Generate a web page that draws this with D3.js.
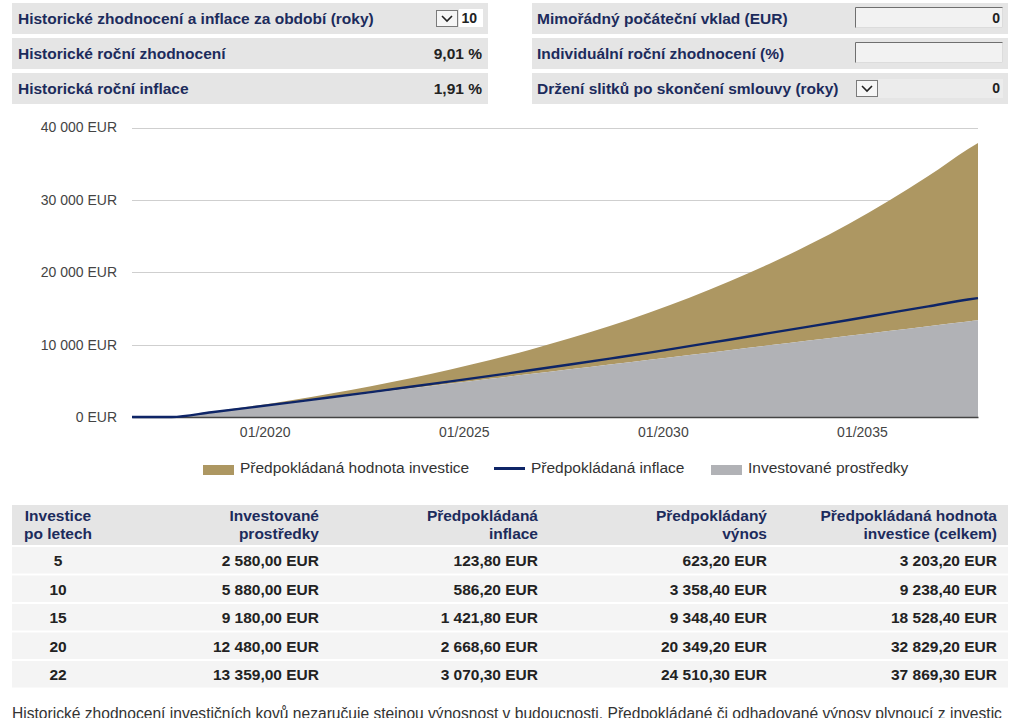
<!DOCTYPE html>
<html><head><meta charset="utf-8">
<script src="https://cdn.jsdelivr.net/npm/d3@7"></script>
<style>
body{margin:0;background:#fff;}
svg{display:block;font-family:"Liberation Sans",Arial,Helvetica,sans-serif;}
</style>
</head><body>
<svg id="c" width="1024" height="718"></svg>
<script>
// ---------- DATA ----------
const leftLabels = ["Historické zhodnocení a inflace za období (roky)", "Historické roční zhodnocení", "Historická roční inflace"];
const leftValues = ["10", "9,01 %", "1,91 %"];
const rightLabels = ["Mimořádný počáteční vklad (EUR)", "Individuální roční zhodnocení (%)", "Držení slitků po skončení smlouvy (roky)"];
const rightValues = ["0", "", "0"];

const dates = ["2016-09","2017-09","2018-09","2019-09","2020-09","2021-09","2022-09","2023-09","2024-09","2025-09","2026-09","2027-09","2028-09","2029-09","2030-09","2031-09","2032-09","2033-09","2034-09","2035-09","2036-09","2037-09","2037-12"];
const invested = [0,0,660,1320,1980,2640,3300,3960,4620,5280,5940,6600,7260,7920,8580,9240,9900,10560,11220,11880,12540,13200,13359];
const inflation = [0,0,660,1334,2022,2724,3440,4172,4919,5681,6459,7253,8065,8892,9800,10680,11580,12490,13410,14350,15290,16230,16429];
const projected = [0,0,708,1482,2327,3251,4259,5359,6562,7876,9309,10874,12582,14448,16485,18708,21136,23786,26679,29837,33283,37045,37869];

const yTicks = [0,10000,20000,30000,40000];
const xTickYears = [2020,2025,2030,2035];
const legendLabels = ["Předpokládaná hodnota investice","Předpokládaná inflace","Investované prostředky"];

const tableHeaders = [["Investice","po letech"],["Investované","prostředky"],["Předpokládaná","inflace"],["Předpokládaný","výnos"],["Předpokládaná hodnota","investice (celkem)"]];
const tableYears = [5,10,15,20,22];
const tableInvested = [2580.00,5880.00,9180.00,12480.00,13359.00];
const tableInflation = [123.80,586.20,1421.80,2668.60,3070.30];
const tableReturn = [623.20,3358.40,9348.40,20349.20,24510.30];
const tableTotal = [3203.20,9238.40,18528.40,32829.20,37869.30];

const noteText = "Historické zhodnocení investičních kovů nezaručuje stejnou výnosnost v budoucnosti. Předpokládané či odhadované výnosy plynoucí z investic";

// ---------- STYLE ----------
const NAVY_TXT = "#1c2b5c", PANEL = "#e5e5e5", GOLD = "#ad9762", GRAY = "#b1b2b6", LINE = "#0e2567";
const FS = 15.5;
const svg = d3.select("#c");
const loc = d3.formatLocale({decimal:",", thousands:" ", grouping:[3], currency:["",""]});
const fmtMoney = v => loc.format(",.2f")(v) + " EUR";
const fmtAxis = v => loc.format(",.0f")(v) + " EUR";

// ---------- TOP PANELS ----------
const rowY = [3,38,73], rowH = 31;
function chevron(g, x, y) {
  g.append("rect").attr("x", x+0.5).attr("y", y+0.5).attr("width", 21).attr("height", 16)
    .attr("fill", "#f6f6f6").attr("stroke", "#7a7a7a");
  g.append("path").attr("d", `M${x+6},${y+6} L${x+11},${y+11} L${x+16},${y+6}`)
    .attr("fill","none").attr("stroke","#222").attr("stroke-width",1.6);
}
const left = svg.append("g");
leftLabels.forEach((lab,i) => {
  left.append("rect").attr("x",12).attr("y",rowY[i]).attr("width",476).attr("height",rowH).attr("fill",PANEL);
  left.append("text").attr("x",18).attr("y",rowY[i]+rowH/2).attr("dy","0.35em")
    .attr("font-size",FS).attr("font-weight","bold").attr("fill",NAVY_TXT).text(lab);
  if (i===0) {
    chevron(left, 436, 10);
    left.append("rect").attr("x",459).attr("y",9).attr("width",24).attr("height",18).attr("fill","#fff");
    left.append("text").attr("x",477).attr("y",rowY[i]+rowH/2).attr("dy","0.35em").attr("text-anchor","end")
      .attr("font-size",14).attr("font-weight","bold").attr("fill","#222").text(leftValues[i]);
  } else {
    left.append("text").attr("x",482).attr("y",rowY[i]+rowH/2).attr("dy","0.35em").attr("text-anchor","end")
      .attr("font-size",FS).attr("font-weight","bold").attr("fill","#222").text(leftValues[i]);
  }
});
const right = svg.append("g");
rightLabels.forEach((lab,i) => {
  right.append("rect").attr("x",532).attr("y",rowY[i]).attr("width",476).attr("height",rowH).attr("fill",PANEL);
  right.append("text").attr("x",537).attr("y",rowY[i]+rowH/2).attr("dy","0.35em")
    .attr("font-size",FS).attr("font-weight","bold").attr("fill",NAVY_TXT).text(lab);
  if (i<2) {
    const y0 = rowY[i]+4;
    right.append("rect").attr("x",855).attr("y",y0).attr("width",148).attr("height",21).attr("fill","#f2f2f2");
    right.append("path").attr("d",`M855.5,${y0+21} V${y0+0.5} H1003`).attr("fill","none").attr("stroke","#6f6f6f");
    right.append("path").attr("d",`M855.5,${y0+20.5} H1002.5 V${y0+0.5}`).attr("fill","none").attr("stroke","#dcdcdc");
  } else {
    chevron(right, 856, 80);
    right.append("rect").attr("x",878).attr("y",79).attr("width",125).attr("height",19).attr("fill","#ececec");
  }
  right.append("text").attr("x",1000).attr("y",rowY[i]+rowH/2).attr("dy","0.35em").attr("text-anchor","end")
    .attr("font-size",14).attr("font-weight","bold").attr("fill","#222").text(rightValues[i]);
});

// ---------- CHART ----------
const parse = d3.timeParse("%Y-%m");
const series = dates.map((d,i) => ({date: parse(d), inv: invested[i], inf: inflation[i], tot: projected[i]}));
const x = d3.scaleTime().domain([parse("2016-09"), parse("2037-12")]).range([132, 978]);
const y = d3.scaleLinear().domain([0, 40000]).range([417, 127.5]);

const chart = svg.append("g");
chart.selectAll("line.grid").data(yTicks.filter(t=>t>0)).join("line").attr("class","grid")
  .attr("x1",132).attr("x2",978).attr("y1",d=>Math.round(y(d))+0.5).attr("y2",d=>Math.round(y(d))+0.5)
  .attr("stroke","#cfcfcf").attr("stroke-width",1);

const curve = d3.curveMonotoneX;
chart.append("path").datum(series).attr("fill",GOLD)
  .attr("d", d3.area().x(d=>x(d.date)).y0(d=>y(d.inv)).y1(d=>y(d.tot)).curve(curve));
chart.append("path").datum(series).attr("fill",GRAY)
  .attr("d", d3.area().x(d=>x(d.date)).y0(y(0)).y1(d=>y(d.inv)).curve(curve));

// axes
const yAxis = d3.axisLeft(y).tickValues(yTicks).tickFormat(fmtAxis).tickSize(0).tickPadding(14);
const gy = chart.append("g").attr("transform","translate(131,0)").call(yAxis);
gy.select(".domain").remove();
gy.selectAll("text").attr("font-size",14).attr("fill","#444").attr("font-family","Liberation Sans, Arial, sans-serif");

const xAxis = d3.axisBottom(x).tickValues(xTickYears.map(v=>new Date(v,0,1))).tickFormat(d3.timeFormat("%m/%Y")).tickSize(0).tickPadding(10);
const gx = chart.append("g").attr("transform","translate(0,417)").call(xAxis);
gx.select(".domain").attr("stroke","#444").attr("stroke-width",1.5);
gx.selectAll("text").attr("font-size",14).attr("fill","#444").attr("font-family","Liberation Sans, Arial, sans-serif");

chart.append("path").datum(series).attr("fill","none").attr("stroke",LINE).attr("stroke-width",2.4)
  .attr("d", d3.line().x(d=>x(d.date)).y(d=>y(d.inf)).curve(curve));

// legend
const leg = svg.append("g");
const legX = [203, 494, 711];
legendLabels.forEach((lab,i) => {
  if (i===1) leg.append("rect").attr("x",legX[i]).attr("y",467).attr("width",31).attr("height",3).attr("fill",LINE);
  else leg.append("rect").attr("x",legX[i]).attr("y",465).attr("width",31).attr("height",10).attr("fill", i===0?GOLD:GRAY);
  leg.append("text").attr("x",legX[i]+37).attr("y",468).attr("dy","0.35em").attr("font-size",FS).attr("fill","#333").text(lab);
});

// ---------- TABLE ----------
const tbl = svg.append("g");
const colX = [58, 319, 538, 767, 997];
const colAnchor = ["middle","end","end","end","end"];
tbl.append("rect").attr("x",12).attr("y",505).attr("width",996).attr("height",40).attr("fill",PANEL);
tableHeaders.forEach((h,c) => {
  h.forEach((line,li) => {
    tbl.append("text").attr("x",colX[c]).attr("y",516+li*18).attr("dy","0.35em").attr("text-anchor",colAnchor[c])
      .attr("font-size",FS).attr("font-weight","bold").attr("fill",NAVY_TXT).text(line);
  });
});
const rows = tableYears.map((yr,i) => [String(yr), fmtMoney(tableInvested[i]), fmtMoney(tableInflation[i]), fmtMoney(tableReturn[i]), fmtMoney(tableTotal[i])]);
rows.forEach((r,i) => {
  const ry = 547 + i*28.5;
  tbl.append("rect").attr("x",12).attr("y",ry).attr("width",996).attr("height",26.5).attr("fill","#f4f4f4");
  r.forEach((cell,c) => {
    tbl.append("text").attr("x",colX[c]).attr("y",ry+14).attr("dy","0.35em").attr("text-anchor",colAnchor[c])
      .attr("font-size",FS).attr("font-weight","bold").attr("fill","#222").text(cell);
  });
});

// ---------- NOTE ----------
svg.append("text").attr("x",12).attr("y",719).attr("font-size",15.6).attr("fill","#333").text(noteText);
</script>
</body></html>
